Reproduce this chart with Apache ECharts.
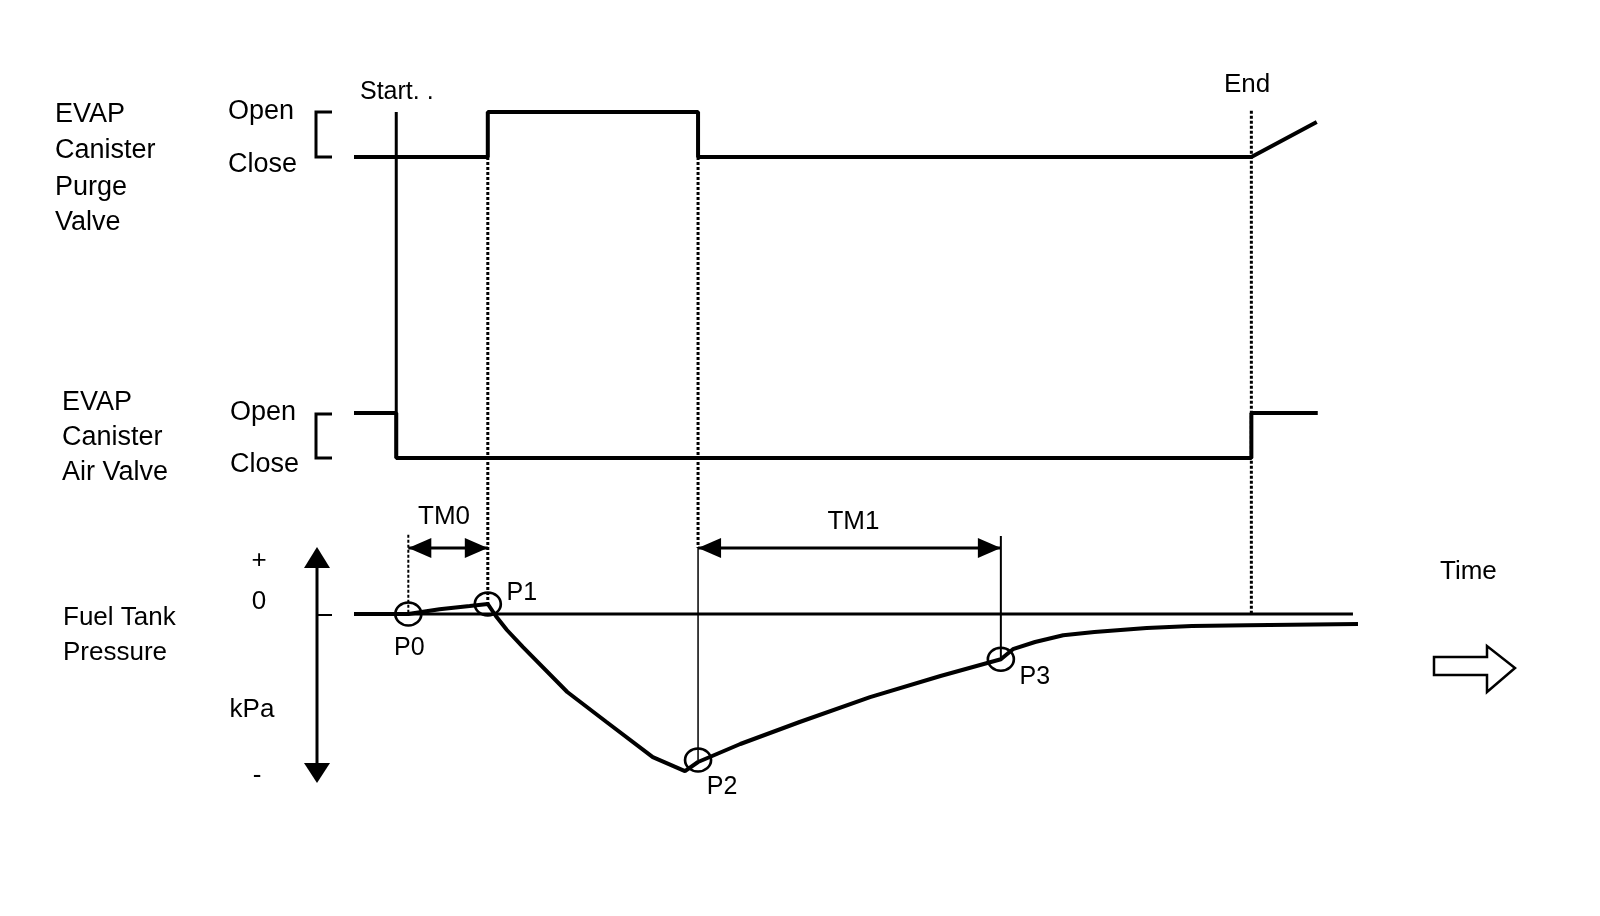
<!DOCTYPE html>
<html>
<head>
<meta charset="utf-8">
<title>EVAP leak check timing</title>
<script src="https://cdn.jsdelivr.net/npm/echarts@6/dist/echarts.min.js"></script>
<style>
html, body { margin: 0; padding: 0; background: #fff; }
#chart { width: 1600px; height: 916px; }
</style>
</head>
<body>
<div id="chart"></div>
<script>
// time in arbitrary units (0..100), pressure in kPa-ish units (0 = atmosphere)
const purgeTimes  = [0, 13.3, 13.3, 34.2, 34.2, 89.2, 95.7];
const purgeLevels = [0, 0, 1, 1, 0, 0, 0.78];          // 0 = close, 1 = open
const airTimes    = [0, 4.2, 4.2, 89.2, 89.2, 95.8];
const airLevels   = [1, 1, 0, 0, 1, 1];

const pressureTimes = [0, 5.4, 8.5, 11.5, 13.3, 14.1, 15.2, 16.8, 21.2, 25.1, 29.7, 32.9, 34.2,
                       38.4, 44.3, 51.3, 58.3, 64.3, 65.5, 67.7, 70.5, 73.6, 78.8, 83.3, 88.8, 99.8];
const pressureKpa   = [0, 0, 0.12, 0.2, 0.25, -0.05, -0.4, -0.83, -1.95, -2.7, -3.58, -3.93, -3.7,
                       -3.25, -2.7, -2.08, -1.55, -1.13, -0.88, -0.7, -0.53, -0.45, -0.35, -0.3, -0.28, -0.25];

const markerNames = ['P0', 'P1', 'P2', 'P3'];
const markerTimes = [5.4, 13.3, 34.2, 64.3];
const markerKpa   = [0, 0.25, -3.65, -1.13];

const tmNames = ['TM0', 'TM1'];
const tmFrom  = [5.4, 34.2];
const tmTo    = [13.3, 64.3];

const START_T = 4.2, END_T = 89.2, ZERO_END_T = 99.3;

// vertical placement of the valve traces in the same y units
const PURGE_CLOSE = 11.425, AIR_CLOSE = 3.9, BAND = 1.125, TM_ROW = 1.65;
const FONT = '"Liberation Sans", Arial, sans-serif';

const chart = echarts.init(document.getElementById('chart'));

function trace(times, vals, base, width) {
  return {
    type: 'line', symbol: 'none', silent: true, z: 3,
    data: times.map((t, i) => [t, base === null ? vals[i] : base + vals[i] * BAND]),
    lineStyle: { color: '#000', width: width }
  };
}
function vline(t, y1, y2, width, type) {
  return {
    type: 'line', symbol: 'none', silent: true, z: 2,
    data: [[t, y1], [t, y2]],
    lineStyle: { color: '#000', width: width, type: type || 'solid' }
  };
}
function txt(text, x, y, align, size) {
  return {
    type: 'text', x: x, y: y, silent: true,
    style: { text: text, fill: '#000', fontSize: size || 26, fontFamily: FONT,
             align: align || 'left', verticalAlign: 'middle' }
  };
}
function bracket(y1, y2) {
  return { type: 'polyline', silent: true,
    shape: { points: [[332, y1], [316, y1], [316, y2], [332, y2]] },
    style: { stroke: '#000', lineWidth: 3, fill: null } };
}

const dots = [3, 2];
const labelOffsets = [[1, 34], [34, -11], [24, 27], [34, 18]];

const option = {
  animation: false,
  backgroundColor: '#fff',
  grid: { left: 354, right: 240, top: 0, bottom: 0, containLabel: false },
  xAxis: { type: 'value', min: 0, max: 100, show: false },
  yAxis: { type: 'value', min: -7.55, max: 15.35, show: false },
  graphic: [
    txt('EVAP', 55, 115, 'left', 27), txt('Canister', 55, 151, 'left', 27),
    txt('Purge', 55, 188, 'left', 27), txt('Valve', 55, 223, 'left', 27),
    txt('Open', 228, 112, 'left', 27), txt('Close', 228, 165, 'left', 27),
    bracket(112, 157),
    txt('EVAP', 62, 403, 'left', 27), txt('Canister', 62, 438, 'left', 27),
    txt('Air Valve', 62, 473, 'left', 27),
    txt('Open', 230, 413, 'left', 27), txt('Close', 230, 465, 'left', 27),
    bracket(414, 458),
    txt('Fuel Tank', 63, 618, 'left', 26), txt('Pressure', 63, 653, 'left', 26),
    txt('+', 259, 561, 'center', 26), txt('0', 259, 602, 'center', 26),
    txt('kPa', 252, 710, 'center', 26), txt('-', 257, 776, 'center', 26),
    { type: 'line', silent: true, shape: { x1: 317, y1: 560, x2: 317, y2: 772 },
      style: { stroke: '#000', lineWidth: 3 } },
    { type: 'polygon', silent: true, shape: { points: [[317, 547], [304, 568], [330, 568]] },
      style: { fill: '#000' } },
    { type: 'polygon', silent: true, shape: { points: [[317, 783], [304, 763], [330, 763]] },
      style: { fill: '#000' } },
    { type: 'line', silent: true, shape: { x1: 317, y1: 615, x2: 332, y2: 615 },
      style: { stroke: '#000', lineWidth: 2 } },
    txt('Start. .', 360, 92, 'left', 25),
    txt('End', 1224, 85, 'left', 26),
    txt('Time', 1440, 572, 'left', 26),
    { type: 'polygon', silent: true,
      shape: { points: [[1434, 657], [1487, 657], [1487, 646], [1515, 668], [1487, 692], [1487, 675], [1434, 675]] },
      style: { fill: '#fff', stroke: '#000', lineWidth: 2.5 } }
  ],
  series: [
    trace(purgeTimes, purgeLevels, PURGE_CLOSE, 4),
    trace(airTimes, airLevels, AIR_CLOSE, 4),
    { type: 'line', symbol: 'none', silent: true, z: 2,
      data: [[0, 0], [ZERO_END_T, 0]], lineStyle: { color: '#000', width: 3 } },
    trace(pressureTimes, pressureKpa, null, 4),
    vline(START_T, PURGE_CLOSE + BAND, AIR_CLOSE, 3),
    vline(markerTimes[1], PURGE_CLOSE, markerKpa[1], 3, dots),
    vline(markerTimes[2], PURGE_CLOSE, TM_ROW, 3, dots),
    vline(markerTimes[2], TM_ROW, markerKpa[2], 1.5),
    vline(END_T, PURGE_CLOSE + BAND * 1.03, 0, 3, dots),
    vline(tmFrom[0], TM_ROW + 0.33, 0, 2, dots),
    vline(tmTo[1], TM_ROW + 0.3, markerKpa[3], 2),
    {
      type: 'scatter', silent: true, z: 5,
      symbol: 'circle', symbolSize: [26, 23],
      itemStyle: { color: 'rgba(0,0,0,0)', borderColor: '#000', borderWidth: 2.5, opacity: 1 },
      data: markerTimes.map((t, i) => ({
        value: [t, markerKpa[i]],
        label: { offset: labelOffsets[i] }
      })),
      label: {
        show: true, position: 'inside', color: '#000', opacity: 1, fontSize: 25, fontFamily: FONT,
        formatter: p => markerNames[p.dataIndex]
      }
    },
    {
      type: 'custom', silent: true, z: 4,
      encode: { x: [0, 1], y: 2 },
      data: tmNames.map((n, i) => [tmFrom[i], tmTo[i], TM_ROW]),
      renderItem: function (params, api) {
        const a = api.coord([api.value(0), api.value(2)]);
        const b = api.coord([api.value(1), api.value(2)]);
        const L = 23, H = 10;
        return {
          type: 'group',
          children: [
            { type: 'line', shape: { x1: a[0], y1: a[1], x2: b[0], y2: b[1] },
              style: { stroke: '#000', lineWidth: 3 } },
            { type: 'polygon', shape: { points: [[a[0], a[1]], [a[0] + L, a[1] - H], [a[0] + L, a[1] + H]] },
              style: { fill: '#000' } },
            { type: 'polygon', shape: { points: [[b[0], b[1]], [b[0] - L, b[1] - H], [b[0] - L, b[1] + H]] },
              style: { fill: '#000' } },
            { type: 'text', x: (a[0] + b[0]) / 2 + (params.dataIndex === 0 ? -4 : 4), y: a[1] - (params.dataIndex === 0 ? 31 : 26),
              style: { text: tmNames[params.dataIndex], fill: '#000', fontSize: 26, fontFamily: FONT,
                       align: 'center', verticalAlign: 'middle' } }
          ]
        };
      }
    }
  ]
};

chart.setOption(option);
window.addEventListener('resize', () => chart.resize());
</script>
</body>
</html>
